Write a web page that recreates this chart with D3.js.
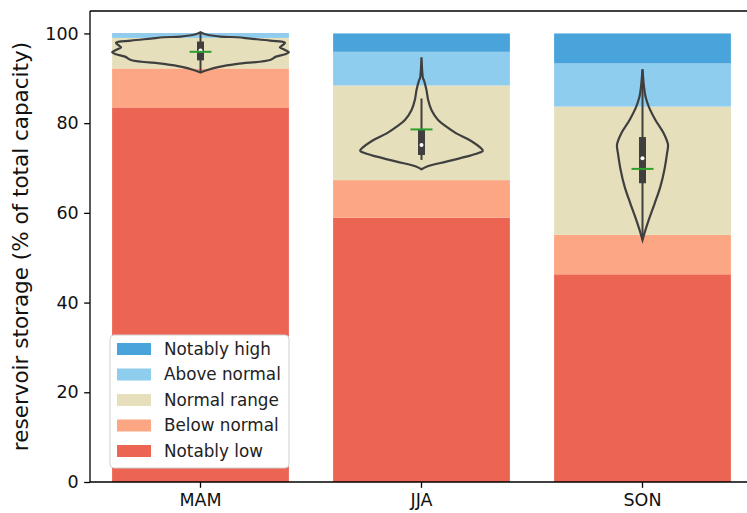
<!DOCTYPE html>
<html><head><meta charset="utf-8">
<script src="https://cdn.jsdelivr.net/npm/d3@7"></script>
<style>
html,body{margin:0;padding:0;background:#fff;}
svg text{font-family:"DejaVu Sans",sans-serif;}
</style></head>
<body><svg id="c" width="747" height="513"></svg>
<script>
// ---- data ----
const seasons = ["MAM", "JJA", "SON"];
const categories = ["Notably low", "Below normal", "Normal range", "Above normal", "Notably high"];
const colors = ["#ec6553", "#fca683", "#e5dfbb", "#8ecdee", "#4aa4dc"];
// segment heights (percent of total capacity), per season, in category order
const notablyLow  = [83.5, 58.9, 46.3];
const belowNormal = [8.7, 8.4, 8.8];
const normalRange = [6.8, 21.1, 28.6];
const aboveNormal = [0.8, 7.5, 9.6];
const notablyHigh = [0.2, 4.1, 6.7];
const yTicks = [0, 20, 40, 60, 80, 100];

// violin outlines: [storage value, relative density]
const violinMAM = [[100.26,0],[99.81,5],[99.29,20],[99.15,37],[98.85,50],[98.40,70],[97.96,85],[97.44,83],[96.91,80],[96.32,85],[95.80,89],[95.35,85],[94.83,76],[94.09,70],[93.2,37],[92.6,20],[91.86,7],[91.27,0]];
const violinJJA = [[94.69,0],[90.0,1.5],[89.63,2.3],[87.40,5],[85.17,6.7],[82.94,10],[80.71,16.7],[79.22,25],[77.73,35],[76.25,48.3],[74.39,60],[73.87,61.7],[73.28,56.7],[72.53,45],[71.42,25],[70.30,5],[69.72,0]];
const violinSON = [[92.01,0],[88.14,1.5],[85.92,3],[83.69,6.3],[80.71,13],[77.73,21.3],[75.14,25.7],[73.28,24.7],[69.57,22],[65.85,18],[62.13,12.3],[58.42,6.3],[56.19,3],[53.96,0]];
const violins = [violinMAM, violinJJA, violinSON];
// box stats
const q1 = [94.0, 72.9, 66.6];
const q3 = [98.2, 78.5, 76.9];
const whiskerLo = [91.3, 71.8, 54.0];
const whiskerHi = [100.3, 85.5, 92.0];
const medians = [96.2, 75.1, 72.2];
const means = [95.9, 78.6, 69.8];

// ---- layout ----
const svg = d3.select("#c");
const L = 90, T = 11, B = 482, step = 221;
const x = d3.scaleBand().domain(seasons).range([L, L + 3 * step]).paddingInner(0.2).paddingOuter(0.1);
const y = d3.scaleLinear().domain([0, 105]).range([B, T]);
const fs = 17.5;

const segs = [notablyLow, belowNormal, normalRange, aboveNormal, notablyHigh];
const stackData = seasons.map((s, i) => {
  const o = {season: s};
  categories.forEach((c, k) => o[c] = segs[k][i]);
  return o;
});
const series = d3.stack().keys(categories)(stackData);

const gBars = svg.append("g");
series.forEach((ser, k) => {
  gBars.selectAll(null).data(ser).enter().append("rect")
    .attr("x", d => x(d.data.season))
    .attr("width", x.bandwidth())
    .attr("y", d => y(d[1]))
    .attr("height", d => y(d[0]) - y(d[1]))
    .attr("fill", colors[k]);
});

// violins
const maxDens = d3.max(violins.flat(), d => d[1]);
const w = d3.scaleLinear().domain([0, maxDens]).range([0, x.bandwidth() / 2]);
const gV = svg.append("g");
violins.forEach((v, i) => {
  const cx = x(seasons[i]) + x.bandwidth() / 2;
  const area = d3.area().curve(d3.curveCatmullRom)
    .y(d => y(d[0])).x0(d => cx - w(d[1])).x1(d => cx + w(d[1]));
  gV.append("path").datum(v).attr("d", area)
    .attr("fill", "none").attr("stroke", "#3f3f3f").attr("stroke-width", 2.2);
  gV.append("line").attr("x1", cx).attr("x2", cx)
    .attr("y1", y(whiskerHi[i])).attr("y2", y(whiskerLo[i]))
    .attr("stroke", "#3f3f3f").attr("stroke-width", 2);
  gV.append("line").attr("x1", cx).attr("x2", cx)
    .attr("y1", y(q3[i])).attr("y2", y(q1[i]))
    .attr("stroke", "#3f3f3f").attr("stroke-width", 7);
  gV.append("circle").attr("cx", cx).attr("cy", y(medians[i])).attr("r", 2)
    .attr("fill", "#fff");
  gV.append("line").attr("x1", cx - 11).attr("x2", cx + 11)
    .attr("y1", y(means[i])).attr("y2", y(means[i]))
    .attr("stroke", "#2ca02c").attr("stroke-width", 2);
});

// axes
const yAxis = svg.append("g").attr("transform", `translate(${L},0)`)
  .call(d3.axisLeft(y).tickValues(yTicks).tickSize(5.8).tickPadding(5.5).tickFormat(d3.format("d")));
yAxis.select(".domain").remove();
const xAxis = svg.append("g").attr("transform", `translate(0,${B})`)
  .call(d3.axisBottom(x).tickSize(5.8).tickPadding(5.5));
xAxis.select(".domain").remove();
[yAxis, xAxis].forEach(g => {
  g.selectAll("text").attr("font-size", fs).attr("fill", "#111").attr("font-family", "DejaVu Sans");
  g.selectAll("line").attr("stroke", "#000").attr("stroke-width", 1.3);
});

// spines
svg.append("line").attr("x1", L).attr("x2", 747).attr("y1", T).attr("y2", T).attr("stroke", "#000").attr("stroke-width", 1.3);
svg.append("line").attr("x1", L).attr("x2", 747).attr("y1", B).attr("y2", B).attr("stroke", "#000").attr("stroke-width", 1.3);
svg.append("line").attr("x1", L).attr("x2", L).attr("y1", T).attr("y2", B).attr("stroke", "#000").attr("stroke-width", 1.3);

// y label
svg.append("text").attr("transform", `translate(28,${(T + B) / 2}) rotate(-90)`)
  .attr("text-anchor", "middle").attr("font-size", 21.5).attr("fill", "#111")
  .text("reservoir storage (% of total capacity)");

// legend
const lg = svg.append("g");
lg.append("rect").attr("x", 110).attr("y", 335).attr("width", 179).attr("height", 133).attr("rx", 4)
  .attr("fill", "#fff").attr("fill-opacity", 1).attr("stroke", "#d0d0d0");
const legItems = categories.map((c, k) => ({c, col: colors[k]})).reverse();
legItems.forEach((d, j) => {
  const cy = 349 + j * 25.5;
  lg.append("rect").attr("x", 117).attr("y", cy - 6).attr("width", 34).attr("height", 12).attr("fill", d.col);
  lg.append("text").attr("x", 164).attr("y", cy).attr("dy", "0.35em").attr("font-size", 16.8).attr("fill", "#222").text(d.c);
});
</script></body></html>
